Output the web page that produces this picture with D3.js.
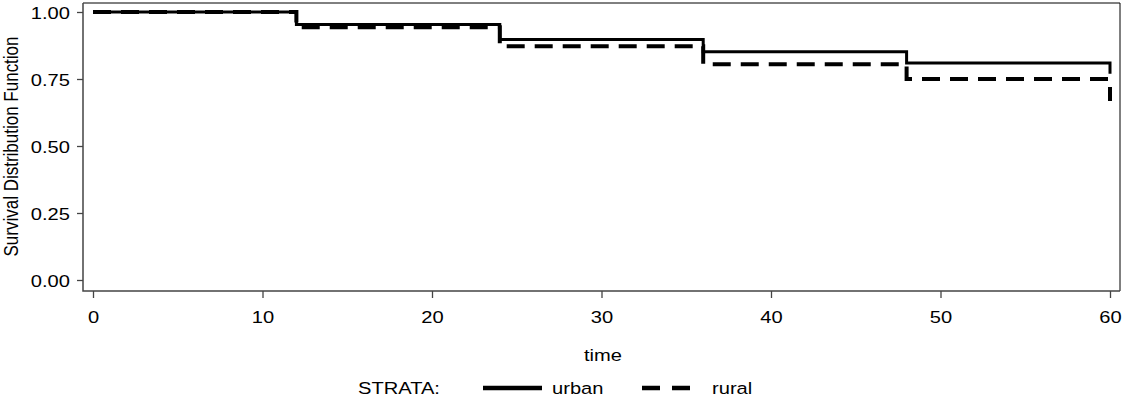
<!DOCTYPE html>
<html>
<head>
<meta charset="utf-8">
<script src="https://cdn.jsdelivr.net/npm/d3@7"></script>
<style>
  body { margin: 0; background: #fff; }
  svg { display: block; font-family: "Liberation Sans", Arial, sans-serif; }
</style>
</head>
<body>
<div class="chart"></div>
<script>
// step times and survival estimates
const times = [0, 12, 24, 36, 48, 60];
const urban = [1.0, 0.953, 0.897, 0.852, 0.81, 0.77];
const rural = [1.0, 0.943, 0.872, 0.805, 0.75, 0.668];

const xTicks = [0, 10, 20, 30, 40, 50, 60];
const yTicks = [0, 0.25, 0.5, 0.75, 1];
const strata = ["urban", "rural"];

const width = 1123;
const height = 403;
const frame = { left: 83, right: 1120, top: 3, bottom: 291 };
const fontSize = 16.5;
const stretch = 1.22; // text in the source is widened horizontally

const svg = d3
  .select(".chart")
  .append("svg")
  .attr("width", width)
  .attr("height", height);

const x = d3.scaleLinear().domain([0, 60]).range([93, 1110]);
const y = d3.scaleLinear().domain([0, 1]).range([280, 12]);

// USAGE: stretched text placed at (px, py)
function addText(g, px, py, str, anchor) {
  return g
    .append("text")
    .attr("transform", `translate(${px},${py}) scale(${stretch},1)`)
    .attr("text-anchor", anchor || "start")
    .attr("font-size", fontSize)
    .attr("fill", "#000")
    .text(str);
}

// y axis
const yAxis = svg
  .append("g")
  .attr("transform", `translate(${frame.left},0)`)
  .call(
    d3.axisLeft(y).tickValues(yTicks).tickFormat(d3.format(".2f")).tickSize(6).tickSizeOuter(0)
  );
yAxis.select(".domain").remove();
yAxis.selectAll(".tick line").attr("stroke", "#444").attr("stroke-width", 1.3);
yAxis
  .selectAll(".tick text")
  .attr("x", null)
  .attr("dy", null)
  .attr("font-size", fontSize)
  .attr("font-family", null)
  .attr("fill", "#000")
  .attr("transform", `translate(-13,6) scale(${stretch},1)`);

// x axis
const xAxis = svg
  .append("g")
  .attr("transform", `translate(0,${frame.bottom})`)
  .call(d3.axisBottom(x).tickValues(xTicks).tickSize(7).tickSizeOuter(0));
xAxis.select(".domain").remove();
xAxis.selectAll(".tick line").attr("stroke", "#444").attr("stroke-width", 1.3);
xAxis
  .selectAll(".tick text")
  .attr("y", null)
  .attr("dy", null)
  .attr("font-size", fontSize)
  .attr("font-family", null)
  .attr("fill", "#000")
  .attr("transform", `translate(0,32) scale(${stretch},1)`);

// frame
svg
  .append("path")
  .attr("d", `M${frame.left},${frame.top}H${frame.right}V${frame.bottom}`)
  .attr("fill", "none")
  .attr("stroke", "#000")
  .attr("stroke-width", 1);
svg
  .append("path")
  .attr("d", `M${frame.left},${frame.top}V${frame.bottom}H${frame.right}`)
  .attr("fill", "none")
  .attr("stroke", "#444")
  .attr("stroke-width", 1.5);

// survival curves
const line = d3
  .line()
  .curve(d3.curveStepAfter)
  .x((d) => x(d.t))
  .y((d) => y(d.s));

const series = [
  { name: strata[0], values: urban, width: 3, dash: null },
  { name: strata[1], values: rural, width: 4, dash: "18,10" },
];

svg
  .append("g")
  .selectAll("path")
  .data(series)
  .enter()
  .append("path")
  .attr("d", (d) => line(times.map((t, i) => ({ t, s: d.values[i] }))))
  .attr("fill", "none")
  .attr("stroke", "#000")
  .attr("stroke-width", (d) => d.width)
  .attr("stroke-dasharray", (d) => d.dash);

// axis labels
addText(svg, 603, 361, "time", "middle");
svg
  .append("text")
  .attr("transform", `translate(18,146.5) rotate(-90) scale(1,${stretch})`)
  .attr("text-anchor", "middle")
  .attr("font-size", 17)
  .attr("fill", "#000")
  .text("Survival Distribution Function");

// legend
const legend = svg.append("g");
const legendY = 394;
addText(legend, 358, legendY, "STRATA:");
const legendItems = [
  { x0: 483, x1: 542, tx: 552, dash: null, w: 4.5 },
  { x0: 642, x1: 690, tx: 712, dash: "18,12", w: 4.5 },
];
legendItems.forEach((item, i) => {
  legend
    .append("line")
    .attr("x1", item.x0)
    .attr("x2", item.x1)
    .attr("y1", legendY - 6)
    .attr("y2", legendY - 6)
    .attr("stroke", "#000")
    .attr("stroke-width", item.w)
    .attr("stroke-dasharray", item.dash);
  addText(legend, item.tx, legendY, strata[i]);
});
</script>
</body>
</html>
